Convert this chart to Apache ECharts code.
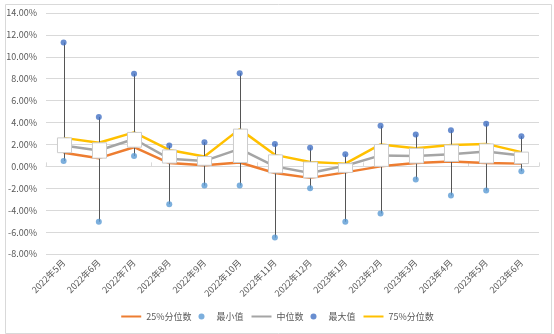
<!DOCTYPE html>
<html>
<head>
<meta charset="utf-8">
<script src="https://cdn.jsdelivr.net/npm/echarts@6/dist/echarts.min.js"></script>
<style>
  html, body { margin: 0; padding: 0; background: #fff; }
  #chart { width: 554px; height: 334px; }
</style>
</head>
<body>
<div id="chart"></div>
<script>
// Monthly distribution of returns (in %)
const months = ['2022年5月', '2022年6月', '2022年7月', '2022年8月', '2022年9月', '2022年10月', '2022年11月',
  '2022年12月', '2023年1月', '2023年2月', '2023年3月', '2023年4月', '2023年5月', '2023年6月'];
const p25    = [1.25, 0.75, 1.75, 0.3, 0.1, 0.35, -0.6, -1.05, -0.55, 0.0, 0.3, 0.45, 0.3, 0.25];
const minV   = [0.5, -5.05, 0.95, -3.45, -1.75, -1.75, -6.5, -2.0, -5.05, -4.3, -1.2, -2.65, -2.2, -0.45];
const median = [1.9, 1.45, 2.5, 0.7, 0.5, 1.6, 0.0, -0.6, 0.05, 1.0, 0.95, 1.1, 1.35, 1.0];
const maxV   = [11.3, 4.5, 8.45, 1.9, 2.2, 8.5, 2.05, 1.7, 1.1, 3.7, 2.9, 3.3, 3.9, 2.75];
const p75    = [2.6, 2.15, 3.1, 1.5, 0.9, 3.4, 1.05, 0.4, 0.25, 2.0, 1.65, 1.95, 2.05, 1.3];
const yTicks = { min: -8, max: 14, step: 2 };

const FONT = '"Noto Sans CJK SC", "Noto Sans", sans-serif';
const TXT = '#595959';

const chart = echarts.init(document.getElementById('chart'));

const boxData = months.map((m, i) => [i, p25[i], p75[i], minV[i], maxV[i]]);

// legend entries for the line series show only the stroke
const lineOnly = name => ({ name: name, itemStyle: { opacity: 0 } });

chart.setOption({
  animation: false,
  backgroundColor: '#fff',
  textStyle: { fontFamily: FONT },
  graphic: [{
    type: 'rect', left: 3, top: 2, z: -10,
    shape: { width: 546, height: 329 },
    style: { fill: 'none', stroke: '#d9d9d9', lineWidth: 1 }
  }],
  grid: { left: 46, right: 15, top: 13, bottom: 80 },
  legend: {
    bottom: 8,
    itemWidth: 20,
    itemHeight: 6,
    itemGap: 7,
    textStyle: { fontSize: 9, color: TXT, fontFamily: FONT },
    data: [lineOnly('25%分位数'), '最小值', lineOnly('中位数'), '最大值', lineOnly('75%分位数')]
  },
  xAxis: [{
    type: 'category',
    data: months,
    position: 'bottom',
    axisLine: { show: false, onZero: false },
    axisTick: { show: false },
    axisLabel: { rotate: 45, fontSize: 9, color: TXT, margin: 7, interval: 0, fontFamily: FONT }
  }, {
    type: 'category',
    data: months,
    axisLine: { show: true, onZero: true, lineStyle: { color: '#d9d9d9' } },
    axisTick: { show: true, length: 4, lineStyle: { color: '#d9d9d9' } },
    axisLabel: { show: false }
  }],
  yAxis: {
    type: 'value',
    min: yTicks.min, max: yTicks.max, interval: yTicks.step,
    axisLine: { show: false },
    axisTick: { show: false },
    axisLabel: { fontSize: 9, color: TXT, margin: 9, fontFamily: FONT, formatter: v => v.toFixed(2) + '%' },
    splitLine: { lineStyle: { color: '#d9d9d9', width: 1 } }
  },
  series: [
    {
      name: '25%分位数', type: 'line', data: p25, symbol: 'none', z: 2,
      lineStyle: { color: '#ED7D31', width: 2.5 }, itemStyle: { color: '#ED7D31' }
    },
    {
      name: '中位数', type: 'line', data: median, symbol: 'none', z: 2,
      lineStyle: { color: '#A5A5A5', width: 2.5 }, itemStyle: { color: '#A5A5A5' }
    },
    {
      name: '75%分位数', type: 'line', data: p75, symbol: 'none', z: 2,
      lineStyle: { color: '#FFC000', width: 2.5 }, itemStyle: { color: '#FFC000' }
    },
    {
      // high-low lines and the white 25%-75% boxes
      name: 'range', type: 'custom', z: 3,
      data: boxData,
      encode: { x: 0, y: [1, 2, 3, 4] },
      renderItem: function (params, api) {
        const x = api.value(0);
        const lo = api.coord([x, api.value(1)]);
        const hi = api.coord([x, api.value(2)]);
        const mn = api.coord([x, api.value(3)]);
        const mx = api.coord([x, api.value(4)]);
        const w = api.size([1, 0])[0] * 0.4;
        const cx = Math.round(lo[0]) + 0.5;
        return {
          type: 'group',
          children: [
            { type: 'line', shape: { x1: cx, y1: mn[1], x2: cx, y2: mx[1] },
              style: { stroke: '#555555', lineWidth: 1 } },
            { type: 'rect', shape: { x: cx - w / 2, y: hi[1], width: w, height: lo[1] - hi[1] },
              style: { fill: '#ffffff', stroke: '#cccccc', lineWidth: 1 } }
          ]
        };
      }
    },
    {
      name: '最小值', type: 'scatter', data: minV, symbol: 'circle', symbolSize: 6, z: 4,
      itemStyle: { color: '#5B9BD5' }
    },
    {
      name: '最大值', type: 'scatter', data: maxV, symbol: 'circle', symbolSize: 6, z: 4,
      itemStyle: { color: '#4472C4' }
    }
  ]
});
</script>
</body>
</html>
